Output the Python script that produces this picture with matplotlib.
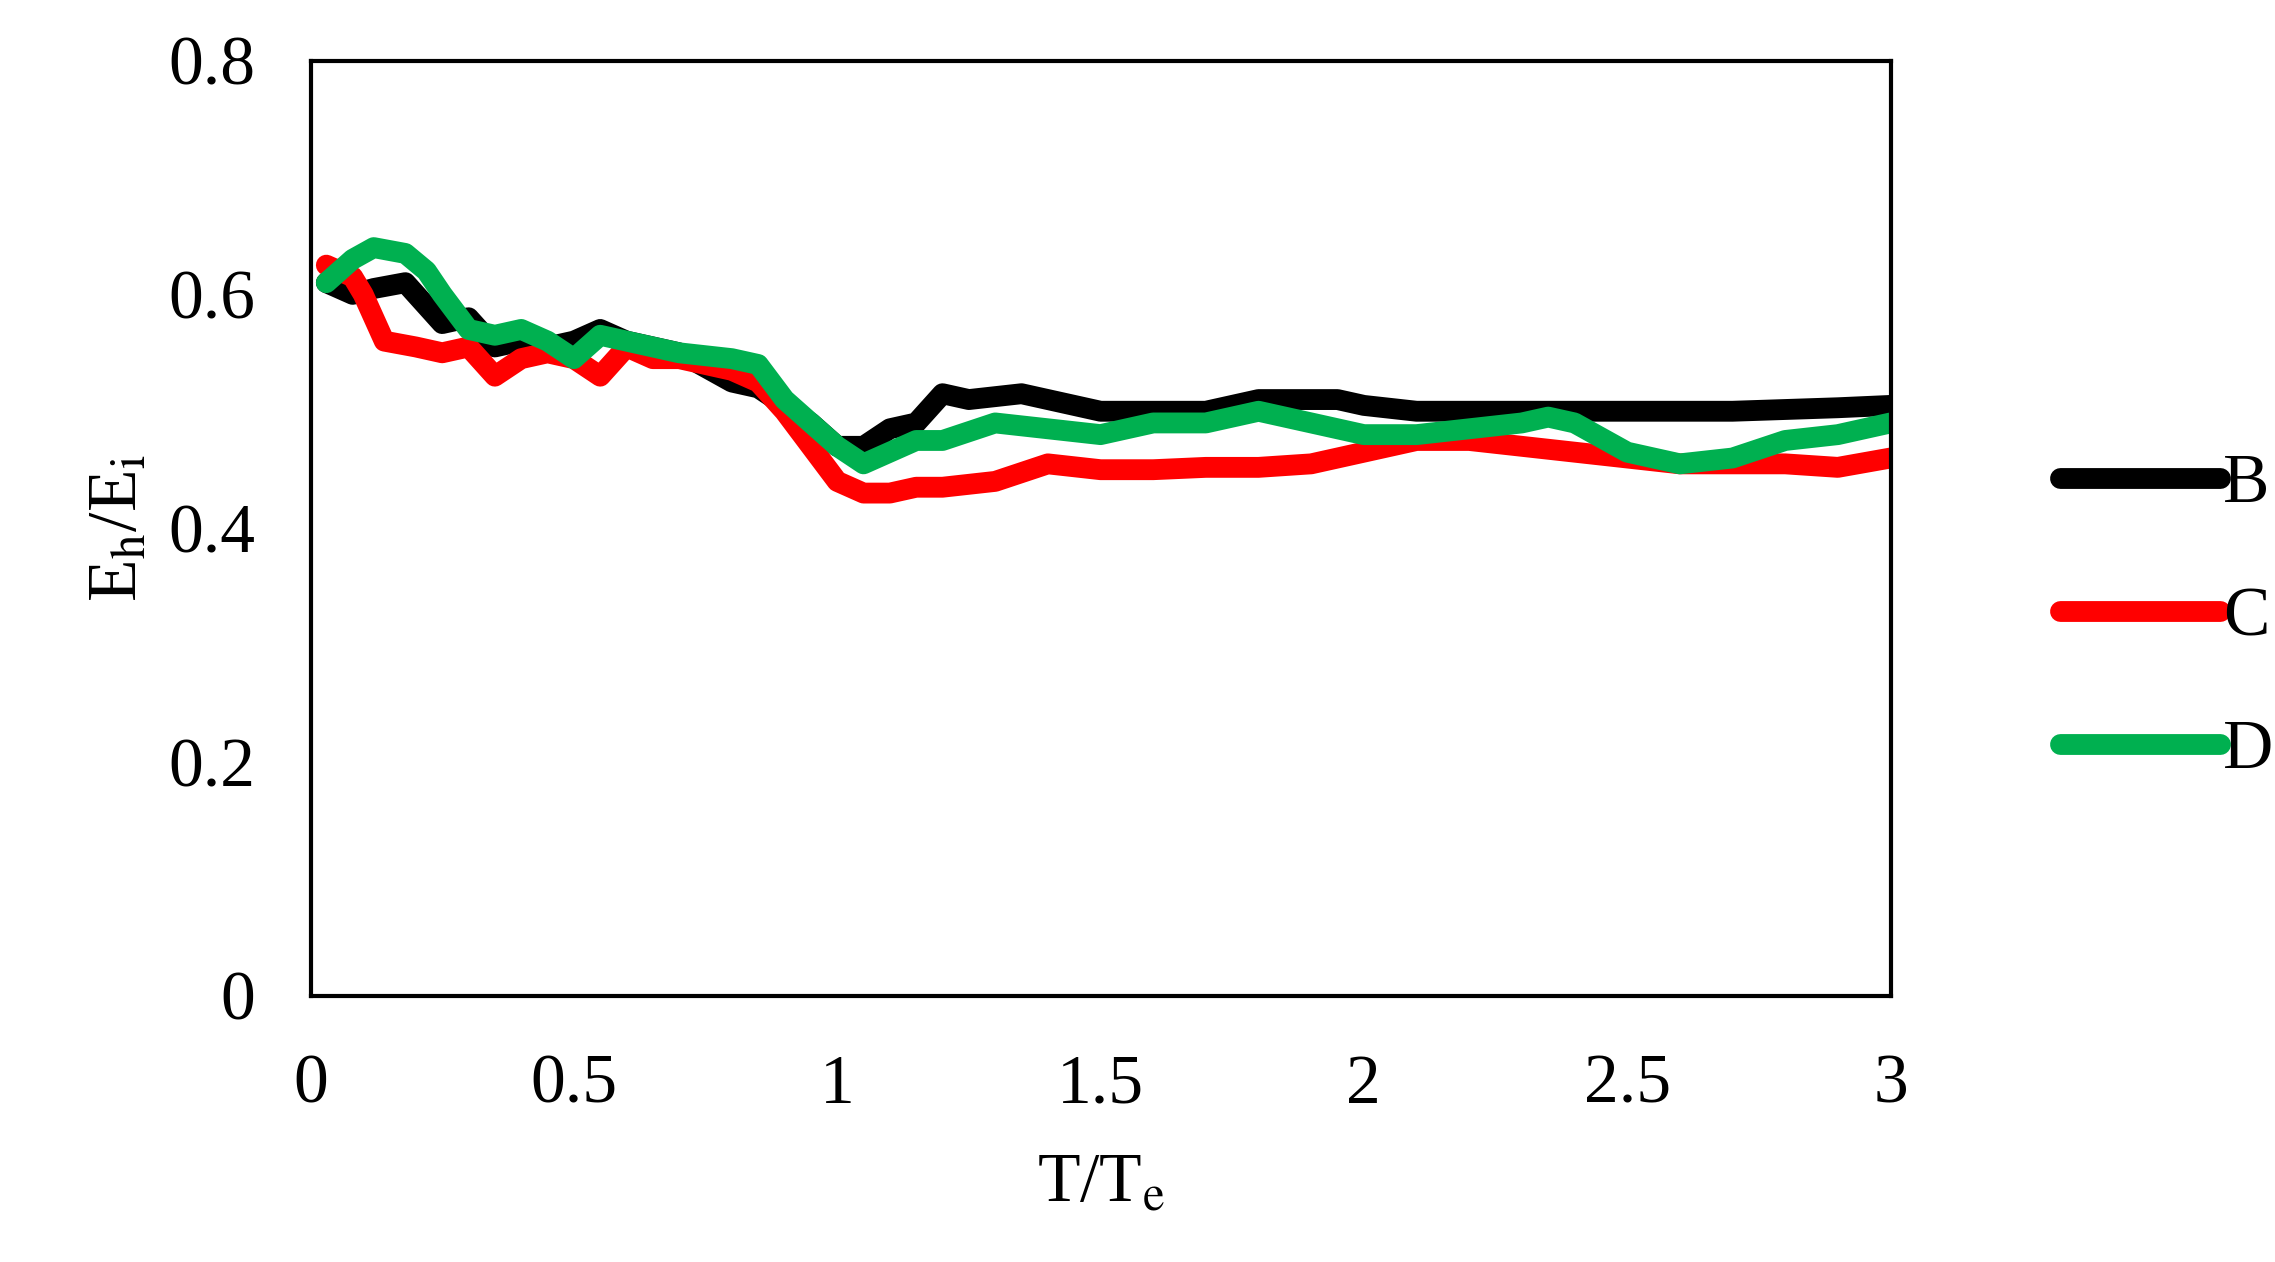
import matplotlib
matplotlib.use("Agg")
import matplotlib.pyplot as plt

plt.rcParams['font.family'] = ['Liberation Serif', 'DejaVu Serif']
plt.rcParams['mathtext.fontset'] = 'stix'

# data
x_b = [0.03, 0.08, 0.12, 0.18, 0.22, 0.25, 0.3, 0.35, 0.4, 0.45, 0.5, 0.55, 0.6, 0.7, 0.8, 0.85,
       0.9, 0.95, 1.0, 1.05, 1.1, 1.15, 1.2, 1.25, 1.35, 1.4, 1.5, 1.6, 1.7, 1.8, 1.9, 1.95,
       2.0, 2.1, 2.2, 2.3, 2.5, 2.7, 2.9, 3.0]
y_b = [0.61, 0.60, 0.605, 0.61, 0.59, 0.575, 0.58, 0.555, 0.56, 0.555, 0.56, 0.57, 0.56, 0.55,
       0.525, 0.52, 0.505, 0.49, 0.47, 0.47, 0.485, 0.49, 0.515, 0.51, 0.515, 0.51, 0.50, 0.50,
       0.50, 0.51, 0.51, 0.51, 0.505, 0.50, 0.50, 0.50, 0.50, 0.50, 0.503, 0.505]

x_c = [0.03, 0.08, 0.1, 0.14, 0.2, 0.25, 0.3, 0.35, 0.4, 0.45, 0.5, 0.55, 0.6, 0.65, 0.7, 0.8,
       0.85, 0.9, 0.95, 1.0, 1.05, 1.1, 1.15, 1.2, 1.3, 1.4, 1.5, 1.6, 1.7, 1.8, 1.9, 2.0,
       2.1, 2.2, 2.3, 2.4, 2.5, 2.6, 2.7, 2.8, 2.9, 3.0]
y_c = [0.625, 0.615, 0.60, 0.56, 0.555, 0.55, 0.555, 0.53, 0.545, 0.55, 0.545, 0.53, 0.555,
       0.545, 0.545, 0.535, 0.525, 0.50, 0.47, 0.44, 0.43, 0.43, 0.435, 0.435, 0.44, 0.455,
       0.45, 0.45, 0.452, 0.452, 0.455, 0.465, 0.475, 0.475, 0.47, 0.465, 0.46, 0.455, 0.455,
       0.455, 0.452, 0.46]

x_d = [0.03, 0.08, 0.12, 0.18, 0.22, 0.25, 0.3, 0.35, 0.4, 0.45, 0.5, 0.55, 0.6, 0.7, 0.8,
       0.85, 0.9, 0.95, 1.0, 1.05, 1.1, 1.15, 1.2, 1.3, 1.4, 1.5, 1.55, 1.6, 1.7, 1.8, 1.9,
       2.0, 2.1, 2.2, 2.3, 2.35, 2.4, 2.5, 2.6, 2.7, 2.8, 2.9, 3.0]
y_d = [0.61, 0.63, 0.64, 0.635, 0.62, 0.60, 0.57, 0.565, 0.57, 0.56, 0.545, 0.565, 0.56, 0.55,
       0.545, 0.54, 0.51, 0.49, 0.47, 0.455, 0.465, 0.475, 0.475, 0.49, 0.485, 0.48, 0.485,
       0.49, 0.49, 0.50, 0.49, 0.48, 0.48, 0.485, 0.49, 0.495, 0.49, 0.465, 0.455, 0.46,
       0.475, 0.48, 0.49]

x_ticks = [0, 0.5, 1, 1.5, 2, 2.5, 3]
x_labels = ['0', '0.5', '1', '1.5', '2', '2.5', '3']
y_ticks = [0, 0.2, 0.4, 0.6, 0.8]
y_labels = ['0', '0.2', '0.4', '0.6', '0.8']

fig = plt.figure(figsize=(22.75, 12.62), dpi=100)
ax = fig.add_axes([0.1365, 0.211, 0.6945, 0.741])

lw = 15
for xs, ys, col, lab in [(x_b, y_b, 'black', 'B'), (x_c, y_c, '#ff0000', 'C'),
                         (x_d, y_d, '#00b050', 'D')]:
    ax.plot(xs, ys, color=col, lw=lw, label=lab,
            solid_capstyle='round', solid_joinstyle='round')

ax.set_xlim(0, 3)
ax.set_ylim(0, 0.8)
ax.set_xticks(x_ticks)
ax.set_xticklabels(x_labels)
ax.set_yticks(y_ticks)
ax.set_yticklabels(y_labels)
ax.tick_params(length=0, labelsize=50)
ax.tick_params(axis='x', pad=42)
ax.tick_params(axis='y', pad=40)
for s in ax.spines.values():
    s.set_linewidth(3)

ax.set_xlabel(r'T/T$_\mathrm{e}$', fontsize=50, labelpad=25)
ax.set_ylabel(r'E$_\mathrm{h}$/E$_\mathrm{i}$', fontsize=50, labelpad=12)

fig.legend(loc='center left', bbox_to_anchor=(0.878, 0.51), frameon=False,
           fontsize=50, handlelength=2.3, handletextpad=0.05, labelspacing=1.0)

fig.savefig('out.png', dpi=100)
